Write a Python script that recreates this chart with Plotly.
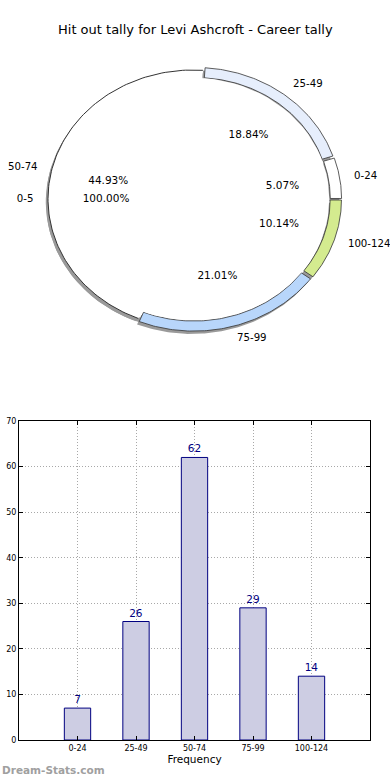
import numpy as np
import plotly.graph_objects as go

# ---------------- data ----------------
title_text = "Hit out tally for Levi Ashcroft - Career tally"
categories = ["0-24", "25-49", "50-74", "75-99", "100-124"]
frequency = [7, 26, 62, 29, 14]
ring_colors = ["#ffffff", "#e6eefc", "#ffffff", "#b8d6fb", "#d4eb8f"]
explode = [0.025, 0.025, 0.0, 0.025, 0.025]
inner_labels = ["0-5"]
inner_values = [1]

FONT = "DejaVu Sans"
NAVY = "#000080"

# ---------------- pie geometry from data ----------------
total = sum(frequency)
fracs = np.array(frequency, dtype=float) / total
ends = np.cumsum(fracs) * 360.0
starts = np.concatenate([[0.0], ends[:-1]])
mids = (starts + ends) / 2.0

R_OUT, R_IN, R_CORE = 1.0, 0.922, 0.94
SHADOW = (-0.015, -0.022)


def wedge(a0, a1, r0, r1, dx=0.0, dy=0.0, n=90):
    t = np.radians(np.linspace(a0, a1, n))
    xo, yo = dx + r1 * np.cos(t), dy + r1 * np.sin(t)
    xi, yi = dx + r0 * np.cos(t[::-1]), dy + r0 * np.sin(t[::-1])
    return (np.concatenate([xo, xi, xo[:1]]), np.concatenate([yo, yi, yo[:1]]))


fig = go.Figure()


def add_poly(x, y, fill, line_color=None, line_width=0):
    fig.add_trace(go.Scatter(
        x=x, y=y, mode="lines", fill="toself", fillcolor=fill,
        line=dict(color=line_color or fill, width=line_width),
        hoverinfo="skip", showlegend=False, xaxis="x", yaxis="y"))


# shadow band (shows through gaps) and per-wedge shadows
sx, sy = wedge(0, 360, 0.965, R_OUT, *SHADOW)
add_poly(sx, sy, "#9a9a9a")
for i in range(len(categories)):
    m = np.radians(mids[i])
    ox, oy = explode[i] * np.cos(m) + SHADOW[0], explode[i] * np.sin(m) + SHADOW[1]
    x, y = wedge(starts[i], ends[i], R_IN, R_OUT, ox, oy)
    add_poly(x, y, "#9a9a9a")

# ring wedges
for i in range(len(categories)):
    m = np.radians(mids[i])
    ox, oy = explode[i] * np.cos(m), explode[i] * np.sin(m)
    x, y = wedge(starts[i], ends[i], R_IN, R_OUT, ox, oy)
    if explode[i] > 0:
        add_poly(x, y, ring_colors[i], "#333333", 0.8)
    else:
        add_poly(x, y, ring_colors[i], ring_colors[i], 0)

# inner pie (0-5)
inner_frac = np.array(inner_values, dtype=float) / sum(inner_values)
cx, cy = wedge(0, 360 * inner_frac[0], 0, R_CORE)
add_poly(cx, cy, "#ffffff")

# outline of the non-exploded wedge
for i in range(len(categories)):
    if explode[i] == 0:
        t = np.radians(np.linspace(starts[i], ends[i], 120))
        fig.add_trace(go.Scatter(x=R_OUT * np.cos(t), y=R_OUT * np.sin(t), mode="lines",
                                 line=dict(color="#333333", width=1), hoverinfo="skip",
                                 showlegend=False, xaxis="x", yaxis="y"))

# labels
m = np.radians(mids)
ex = np.array(explode)
lab_x = (ex + 1.1 * R_OUT) * np.cos(m)
lab_y = (ex + 1.1 * R_OUT) * np.sin(m)
lab_pos = ["middle right" if c >= 0 else "middle left" for c in np.cos(m)]
fig.add_trace(go.Scatter(x=lab_x, y=lab_y, mode="text", text=categories,
                         textposition=lab_pos, textfont=dict(family=FONT, size=10.2, color="#000"),
                         hoverinfo="skip", showlegend=False, xaxis="x", yaxis="y"))
pct_x = (ex + 0.6 * R_OUT) * np.cos(m)
pct_y = (ex + 0.6 * R_OUT) * np.sin(m)
fig.add_trace(go.Scatter(x=pct_x, y=pct_y, mode="text",
                         text=[f"{f * 100:.2f}%" for f in fracs], textposition="middle center",
                         textfont=dict(family=FONT, size=10.5, color="#000"),
                         hoverinfo="skip", showlegend=False, xaxis="x", yaxis="y"))
# inner wedge spans the full circle; its label sits on the left (bisector at 180 deg)
im = np.radians(np.full(len(inner_labels), 180.0))
fig.add_trace(go.Scatter(x=1.1 * np.cos(im), y=1.1 * np.sin(im), mode="text", text=inner_labels,
                         textposition="middle left", textfont=dict(family=FONT, size=10.2, color="#000"),
                         hoverinfo="skip", showlegend=False, xaxis="x", yaxis="y"))
fig.add_trace(go.Scatter(x=0.6 * np.cos(im), y=0.6 * np.sin(im), mode="text",
                         text=[f"{f * 100:.2f}%" for f in inner_frac], textposition="middle center",
                         textfont=dict(family=FONT, size=10.5, color="#000"),
                         hoverinfo="skip", showlegend=False, xaxis="x", yaxis="y"))

# ---------------- bar chart ----------------
fig.add_trace(go.Bar(
    x=categories, y=frequency, width=0.45,
    marker=dict(color="#cdcde3", line=dict(color=NAVY, width=1)),
    text=[str(v) for v in frequency], textposition="outside",
    textfont=dict(family=FONT, size=10.5, color=NAVY), cliponaxis=False,
    hoverinfo="skip", showlegend=False, xaxis="x2", yaxis="y2"))

W, H = 390, 780
PCX, PCY, PRX, PRY = 193, 199, 145, 129   # pie centre / radii in pixels
PIE_H = 400
GRID = dict(showgrid=True, gridcolor="#a8a8a8", griddash="1px,2px", gridwidth=1)

fig.update_layout(
    width=W, height=H, margin=dict(l=0, r=0, t=0, b=0),
    paper_bgcolor="white", plot_bgcolor="white",
    font=dict(family=FONT, color="#000"),
    xaxis=dict(domain=[0, 1], range=[-PCX / PRX, (W - PCX) / PRX], visible=False,
               fixedrange=True, automargin=False),
    yaxis=dict(domain=[1 - PIE_H / H, 1], range=[-(PIE_H - PCY) / PRY, PCY / PRY],
               visible=False, fixedrange=True, automargin=False),
    xaxis2=dict(domain=[19 / W, 370 / W], anchor="y2", type="category", range=[-1, 5],
                automargin=False, fixedrange=True,
                showline=True, mirror="ticks", linecolor="#000", linewidth=1,
                ticks="inside", ticklen=4, tickcolor="#000", **GRID,
                tickfont=dict(family=FONT, size=8, color="#000"),
                title=dict(text="Frequency", font=dict(family=FONT, size=10.5), standoff=4)),
    yaxis2=dict(domain=[(H - 740) / H, (H - 421) / H], anchor="x2", range=[0, 70], dtick=10,
                automargin=False, fixedrange=True,
                showline=True, mirror="ticks", linecolor="#000", linewidth=1,
                ticks="inside", ticklen=4, tickcolor="#000", zeroline=False, **GRID,
                tickfont=dict(family=FONT, size=8, color="#000")),
    annotations=[
        dict(text=title_text, xref="paper", yref="paper", x=0.5, y=1 - 30 / H,
             xanchor="center", yanchor="middle", showarrow=False,
             font=dict(family=FONT, size=13, color="#000")),
        dict(text="<b>Dream-Stats.com</b>", xref="paper", yref="paper", x=0, y=1 - 770 / H,
             xanchor="left", yanchor="middle", showarrow=False,
             font=dict(family=FONT, size=10.5, color="#a0a0a0")),
    ],
)

fig.write_html("out.html", config={"displayModeBar": False},
               post_script="document.body.style.margin='0';document.body.style.overflow='hidden';")
